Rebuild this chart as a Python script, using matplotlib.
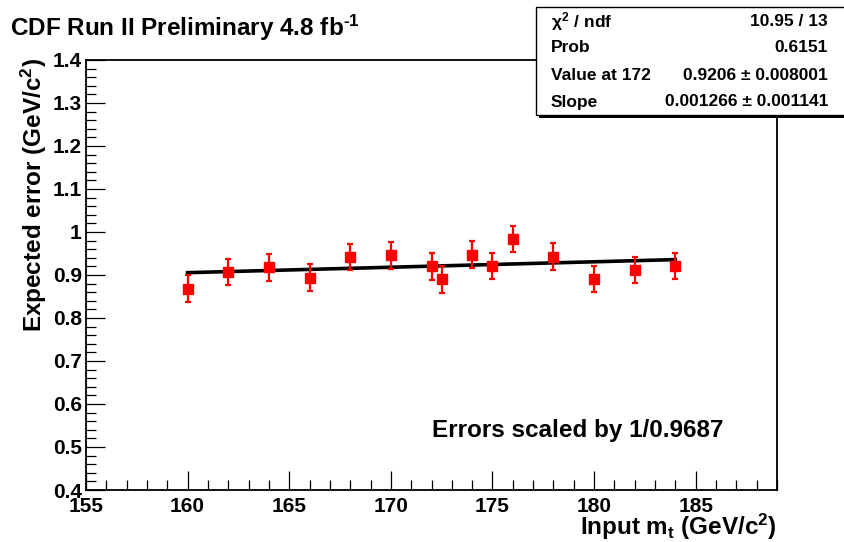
import numpy as np
import matplotlib
matplotlib.use('Agg')
import matplotlib.pyplot as plt
from matplotlib.ticker import MultipleLocator, FuncFormatter
from matplotlib.patches import Rectangle

# fonts - Helvetica bold look
plt.rcParams['font.family'] = ['Liberation Sans', 'DejaVu Sans']
plt.rcParams['font.weight'] = 'bold'
plt.rcParams['mathtext.fontset'] = 'custom'
plt.rcParams['mathtext.rm'] = 'Liberation Sans:bold'
plt.rcParams['mathtext.it'] = 'Liberation Sans:bold'
plt.rcParams['mathtext.bf'] = 'Liberation Sans:bold'

# data
mass  = [160, 162, 164, 166, 168, 170, 172, 172.5, 174, 175, 176, 178, 180, 182, 184]
err   = [0.868, 0.907, 0.918, 0.894, 0.942, 0.946, 0.920, 0.890, 0.947, 0.921,
         0.984, 0.943, 0.891, 0.912, 0.921]
derr  = [0.031, 0.031, 0.031, 0.031, 0.031, 0.031, 0.031, 0.031, 0.031, 0.031,
         0.031, 0.032, 0.031, 0.031, 0.031]

# fit result (from stat box)
fit_ref   = 172
fit_val   = 0.9206
fit_slope = 0.001266
stat_rows = [(r'$\chi^{2}$ / ndf', '10.95 / 13'),
             ('Prob', '0.6151'),
             ('Value at 172', '0.9206 \u00b1 0.008001'),
             ('Slope', '0.001266 \u00b1 0.001141')]

W, H = 844, 542

def fx(px):
    return px / W

def fy(py):
    return 1 - py / H

def main():
    fig = plt.figure(figsize=(W / 100, H / 100), dpi=100)
    ax = fig.add_axes([fx(86), fy(490), (777 - 86) / W, (490 - 60) / H])

    # fit line
    xf = np.array([mass[0], mass[-1]])
    ax.plot(xf, fit_val + fit_slope * (xf - fit_ref), color='black', lw=2.6, zorder=2)

    # points
    ax.errorbar(mass, err, yerr=derr, fmt='s', color='red', ms=7, lw=1.6,
                capsize=2.2, capthick=1.6, zorder=3)

    ax.set_xlim(155, 189)
    ax.set_ylim(0.4, 1.4)
    ax.xaxis.set_major_locator(MultipleLocator(5))
    ax.xaxis.set_minor_locator(MultipleLocator(1))
    ax.yaxis.set_major_locator(MultipleLocator(0.1))
    ax.yaxis.set_minor_locator(MultipleLocator(0.02))
    ax.yaxis.set_major_formatter(FuncFormatter(lambda v, p: '%g' % round(v, 2)))
    ax.tick_params(which='both', direction='in', top=False, right=False,
                   labelsize=15, width=0.9)
    ax.tick_params(which='major', length=14)
    ax.tick_params(which='minor', length=7)
    ax.tick_params(axis='y', pad=3)
    ax.tick_params(axis='x', pad=5)
    for s in ax.spines.values():
        s.set_linewidth(1.3)

    ax.text((432 - 86) / 691, (490 - 437) / 430, 'Errors scaled by 1/0.9687',
            transform=ax.transAxes, ha='left', va='baseline', fontsize=17.5,
            fontweight='bold')

    # title and axis labels
    fig.text(fx(10), fy(36), r'CDF Run II Preliminary 4.8 fb$^{\text{-}1}$',
             ha='left', va='baseline', fontsize=17.5, fontweight='bold')
    fig.text(fx(777), fy(535), r'Input m$_{t}$ (GeV/c$^{2}$)',
             ha='right', va='baseline', fontsize=17.5, fontweight='bold')
    fig.text(fx(34), fy(58), r'Expected error (GeV/c$^{2}$)', rotation=90,
             ha='center', va='top', fontsize=17.5, fontweight='bold')

    # stat box with shadow
    bx0, by0, bx1, by1 = 536, 7, 850, 115
    fig.patches.append(Rectangle((fx(bx0 + 3), fy(by1 + 3)), (bx1 - bx0) / W,
                                 (by1 - by0) / H, transform=fig.transFigure,
                                 facecolor='black', edgecolor='none', zorder=5))
    fig.patches.append(Rectangle((fx(bx0), fy(by1)), (bx1 - bx0) / W,
                                 (by1 - by0) / H, transform=fig.transFigure,
                                 facecolor='white', edgecolor='black', lw=1,
                                 zorder=6))
    row_y = [22, 48, 76, 102]
    for (lab, val), yy in zip(stat_rows, row_y):
        fig.text(fx(551), fy(yy), lab, ha='left', va='center', fontsize=12.5,
                 fontweight='bold', zorder=7)
        fig.text(fx(828), fy(yy), val, ha='right', va='center', fontsize=12.5,
                 fontweight='bold', zorder=7)

    fig.savefig('out.png', dpi=100)
    return 0

if __name__ == "__main__":
    main()
